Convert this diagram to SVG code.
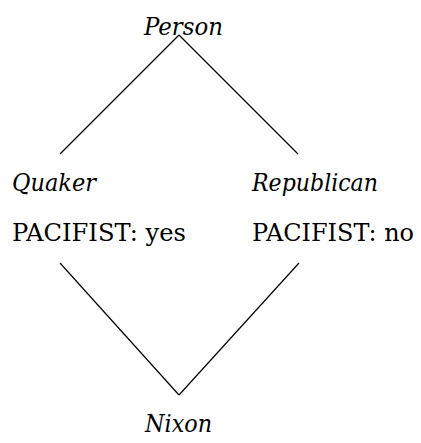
<svg xmlns="http://www.w3.org/2000/svg" width="421" height="443" viewBox="0 0 421 443">
  <style>
    .lbl { font-family: 'DejaVu Serif', 'Liberation Serif', 'Times New Roman', serif; font-size: 24.5px; fill: #000; }
    .it { font-style: italic; }
    .edge { stroke: #000; stroke-width: 1.2; fill: none; }
  </style>
  <rect width="421" height="443" fill="#fff"/>
  <g id="connectors">
    <line class="edge" x1="179" y1="35" x2="60" y2="154"/>
    <line class="edge" x1="179" y1="35" x2="298" y2="154"/>
    <line class="edge" x1="60" y1="263" x2="179" y2="395"/>
    <line class="edge" x1="299" y1="263" x2="179" y2="395"/>
  </g>
  <g id="person">
    <text class="lbl it" x="144" y="35" textLength="79" lengthAdjust="spacingAndGlyphs">Person</text>
  </g>
  <g id="quaker">
    <text class="lbl it" x="12" y="191" textLength="84" lengthAdjust="spacingAndGlyphs">Quaker</text>
    <text class="lbl" x="12" y="241" textLength="174" lengthAdjust="spacingAndGlyphs">PACIFIST: yes</text>
  </g>
  <g id="republican">
    <text class="lbl it" x="252" y="191" textLength="126" lengthAdjust="spacingAndGlyphs">Republican</text>
    <text class="lbl" x="252" y="241" textLength="162" lengthAdjust="spacingAndGlyphs">PACIFIST: no</text>
  </g>
  <g id="nixon">
    <text class="lbl it" x="145" y="432" textLength="67" lengthAdjust="spacingAndGlyphs">Nixon</text>
  </g>
</svg>
